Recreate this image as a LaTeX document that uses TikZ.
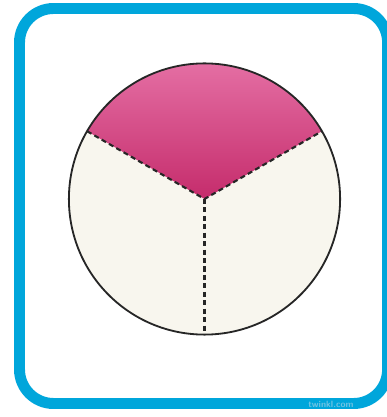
\documentclass[tikz,border=0pt]{standalone}
\usetikzlibrary{positioning, calc}
\definecolor{frameblue}{HTML}{00A6DB}
\definecolor{pietop}{HTML}{E46EA3}
\definecolor{piebot}{HTML}{C42A6A}
\definecolor{cream}{HTML}{F8F6EE}
\definecolor{marktext}{HTML}{6FC3E3}
\tikzset{
  frame/.style={draw=frameblue, line width=7.8pt, rounded corners=0.85cm},
  rim/.style={draw=black!85, line width=1.3pt},
  cut/.style={draw=black!85, line width=1.5pt, dash pattern=on 3.6pt off 2.4pt},
  sitelab/.style={font=\sffamily\bfseries\fontsize{6.5}{7}\selectfont, text=marktext, inner sep=0pt}
}
\begin{document}
\begin{tikzpicture}
	\useasboundingbox (0,0) rectangle (9.675,10.425);
	\draw[frame] (0.4875,0.3375) rectangle (9.69,10.2125);
	% the pie: centre and radius
	\coordinate (o) at (5.1125,5.45);
	\def\rad{3.39}
	\fill[cream] (o) circle (\rad);
	% shaded third on top
	\begin{scope}
		\clip (o) -- ++(150:\rad) arc (150:30:\rad) -- cycle;
		\shade[top color=pietop, bottom color=piebot] ($(o)+(-\rad,-0.1)$) rectangle ($(o)+(\rad,\rad)$);
	\end{scope}
	\coordinate (l) at ($(o)+(150:\rad)$);
	\coordinate (r) at ($(o)+(30:\rad)$);
	\coordinate (b) at ($(o)+(270:\rad)$);
	\draw[cut] (l) -- (o) -- (r);
	\draw[cut] (o) -- (b);
	\draw[rim] (o) circle (\rad);
	\node[sitelab] (site) at (8.275,0.31) {twinkl.com};
\end{tikzpicture}
\end{document}
